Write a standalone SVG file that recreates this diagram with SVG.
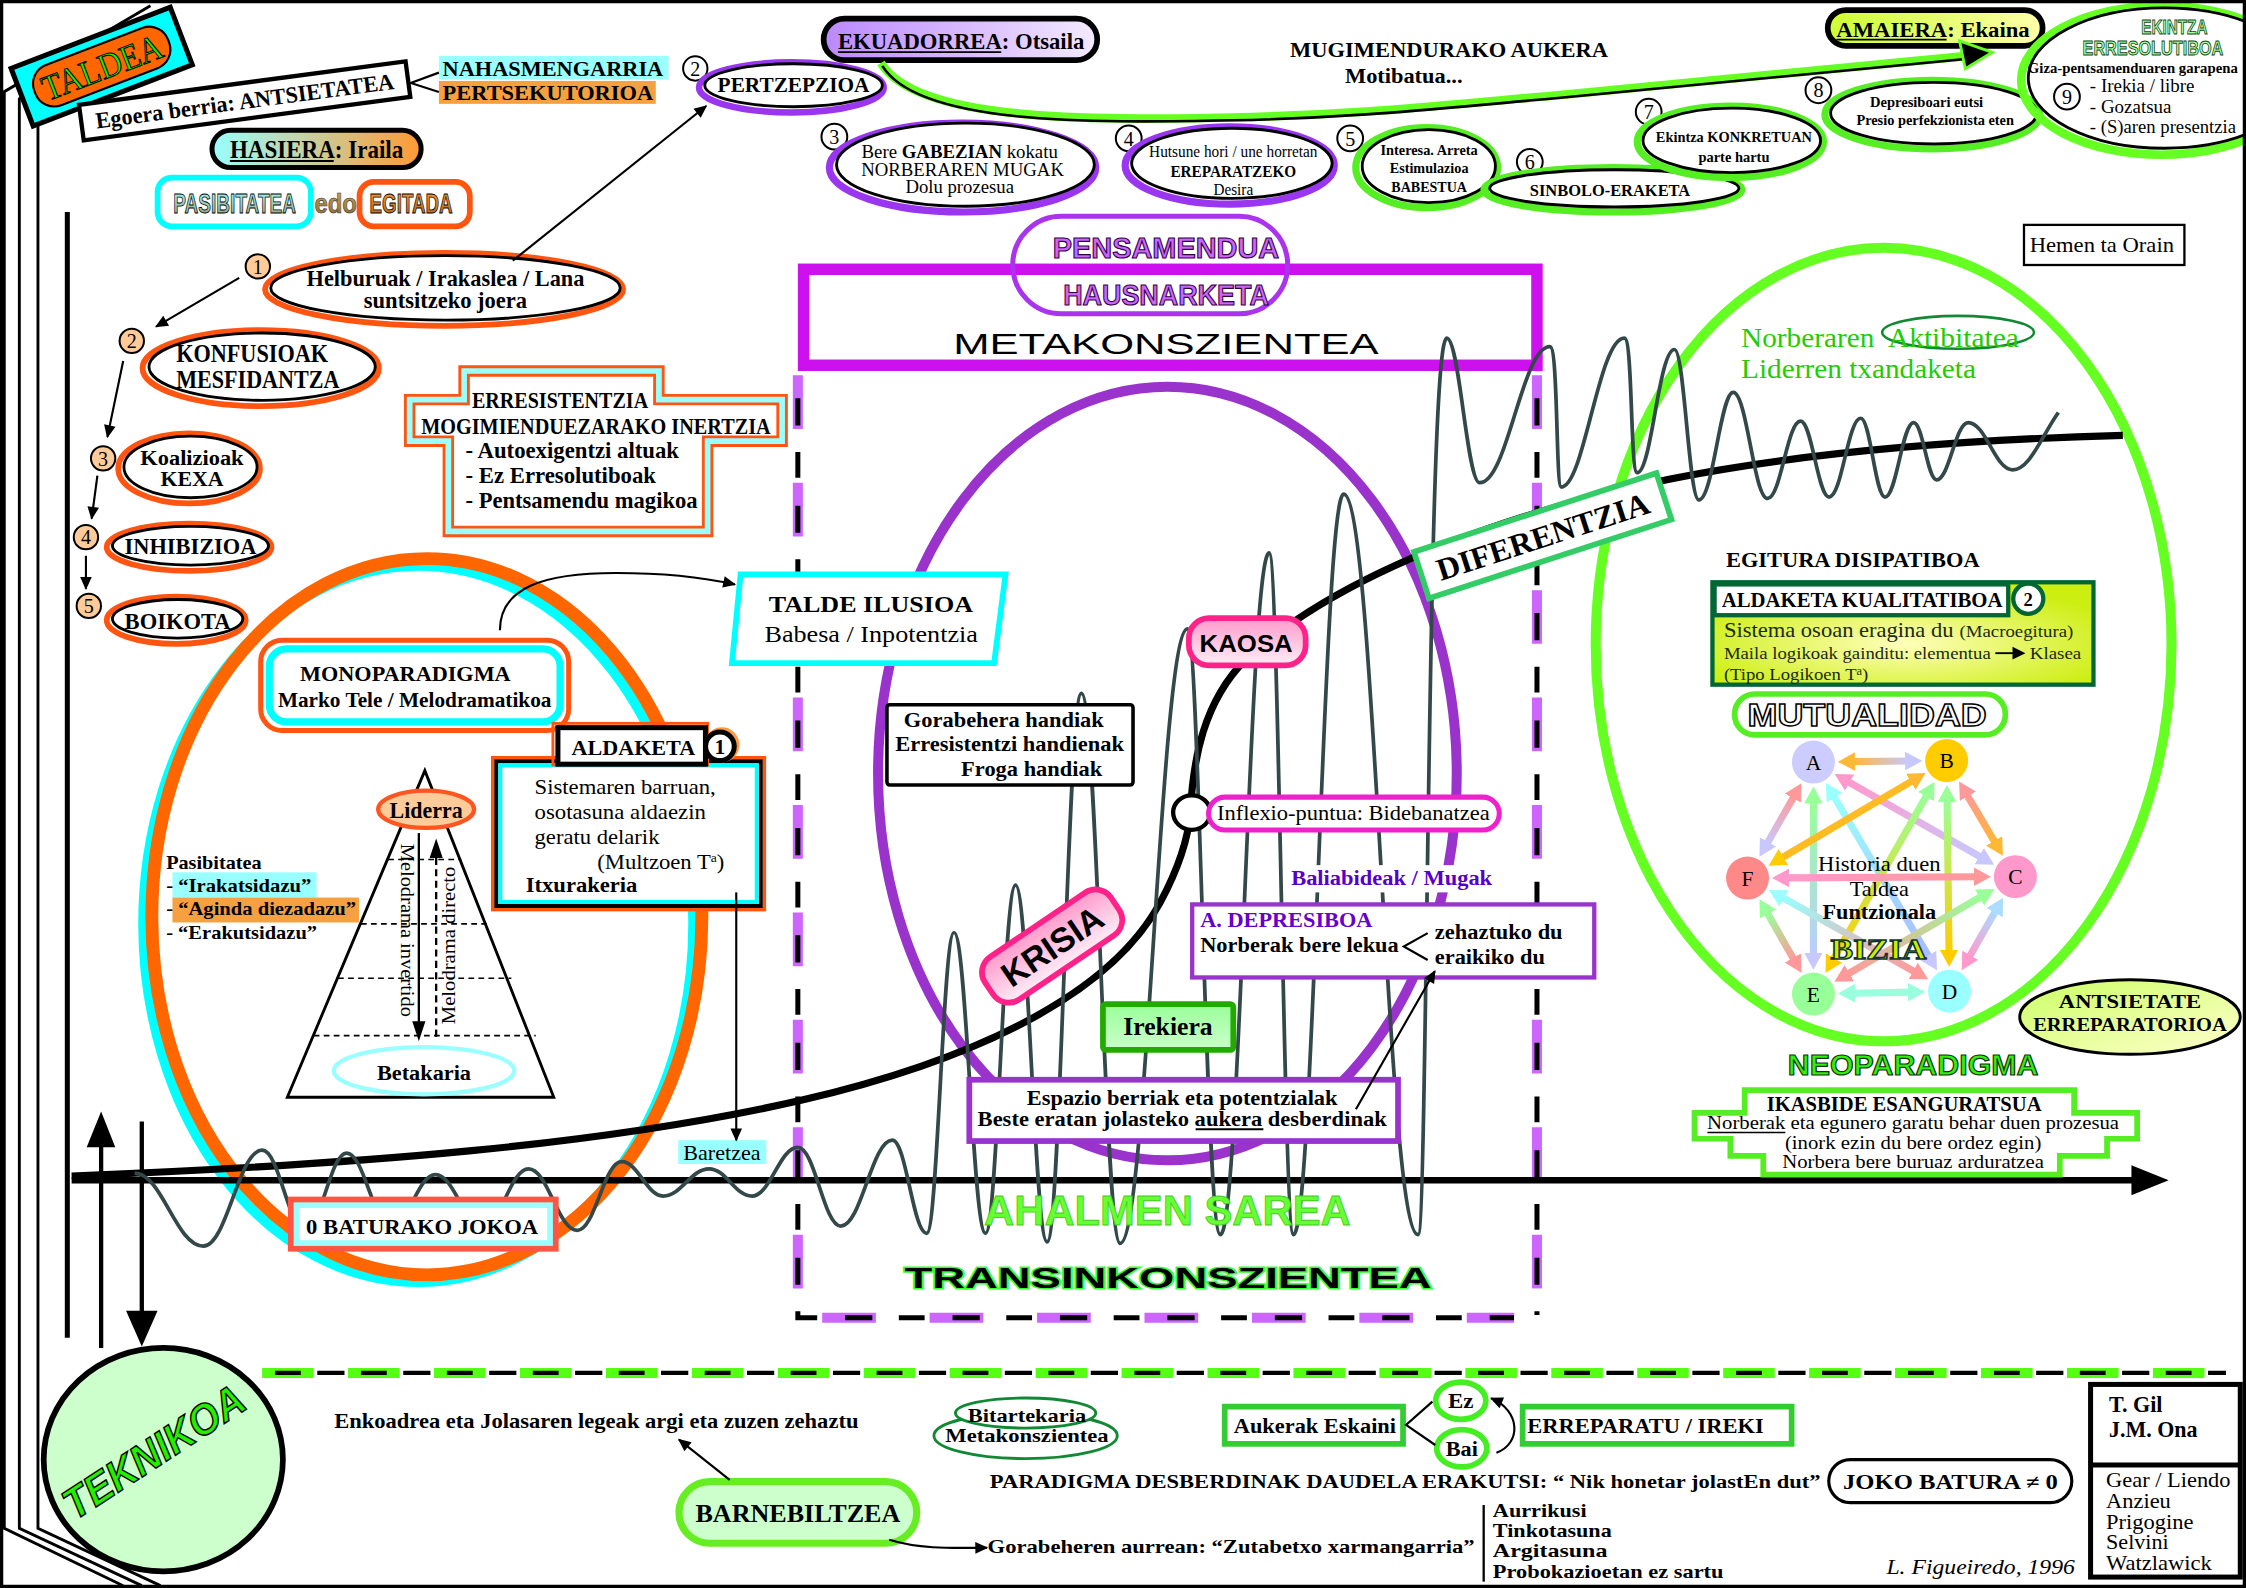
<svg xmlns="http://www.w3.org/2000/svg" width="2246" height="1588" viewBox="0 0 2246 1588">
<defs>
<style>
.b{font-family:"Liberation Serif","Times New Roman",serif;font-weight:bold}
.r{font-family:"Liberation Serif","Times New Roman",serif}
.s{font-family:"Liberation Sans",Arial,sans-serif}
.sb{font-family:"Liberation Sans",Arial,sans-serif;font-weight:bold}
.im{font-family:"Liberation Sans Narrow","Liberation Sans",Arial,sans-serif;font-weight:bold}
.ln{fill:none;stroke:#000;stroke-width:1.5}
.ul{stroke:#000;stroke-width:1.3}
.num{fill:#fff;stroke:#000;stroke-width:1.4}
.numo{fill:#ffcc99;stroke:#000;stroke-width:1.4}
.mu{fill:none;stroke-width:5}
</style>
<marker id="ah" viewBox="0 0 10 10" refX="9" refY="5" markerWidth="10" markerHeight="9" markerUnits="userSpaceOnUse" orient="auto"><path d="M0,0.5 L10,5 L0,9.5 z" fill="#000"/></marker>
<marker id="m-or" viewBox="0 0 12 13" refX="2" refY="6.5" markerWidth="12" markerHeight="13" markerUnits="userSpaceOnUse" orient="auto-start-reverse"><path d="M0,0 L12,6.5 L0,13 z" fill="#ffb833"/></marker>
<marker id="m-lav" viewBox="0 0 12 13" refX="2" refY="6.5" markerWidth="12" markerHeight="13" markerUnits="userSpaceOnUse" orient="auto-start-reverse"><path d="M0,0 L12,6.5 L0,13 z" fill="#c8c8ff"/></marker>
<marker id="m-pk" viewBox="0 0 12 13" refX="2" refY="6.5" markerWidth="12" markerHeight="13" markerUnits="userSpaceOnUse" orient="auto-start-reverse"><path d="M0,0 L12,6.5 L0,13 z" fill="#ff99cc"/></marker>
<marker id="m-cy" viewBox="0 0 12 13" refX="2" refY="6.5" markerWidth="12" markerHeight="13" markerUnits="userSpaceOnUse" orient="auto-start-reverse"><path d="M0,0 L12,6.5 L0,13 z" fill="#99ffff"/></marker>
<marker id="m-lg" viewBox="0 0 12 13" refX="2" refY="6.5" markerWidth="12" markerHeight="13" markerUnits="userSpaceOnUse" orient="auto-start-reverse"><path d="M0,0 L12,6.5 L0,13 z" fill="#99ff99"/></marker>
<marker id="m-sa" viewBox="0 0 12 13" refX="2" refY="6.5" markerWidth="12" markerHeight="13" markerUnits="userSpaceOnUse" orient="auto-start-reverse"><path d="M0,0 L12,6.5 L0,13 z" fill="#ff9999"/></marker>
<marker id="m-ye" viewBox="0 0 12 13" refX="2" refY="6.5" markerWidth="12" markerHeight="13" markerUnits="userSpaceOnUse" orient="auto-start-reverse"><path d="M0,0 L12,6.5 L0,13 z" fill="#ffcc00"/></marker>
<marker id="m-aq" viewBox="0 0 12 13" refX="2" refY="6.5" markerWidth="12" markerHeight="13" markerUnits="userSpaceOnUse" orient="auto-start-reverse"><path d="M0,0 L12,6.5 L0,13 z" fill="#99ffdd"/></marker>
<marker id="m-lb" viewBox="0 0 12 13" refX="2" refY="6.5" markerWidth="12" markerHeight="13" markerUnits="userSpaceOnUse" orient="auto-start-reverse"><path d="M0,0 L12,6.5 L0,13 z" fill="#aaddff"/></marker>
<linearGradient id="gHas" x1="0" y1="0" x2="1" y2="0"><stop offset="0" stop-color="#99ffff"/><stop offset="1" stop-color="#ff9933"/></linearGradient>
<linearGradient id="gEku" x1="0" y1="0" x2="1" y2="0"><stop offset="0" stop-color="#bb88ff"/><stop offset="1" stop-color="#f4eaff"/></linearGradient>
<linearGradient id="gAma" x1="0" y1="0" x2="1" y2="0"><stop offset="0" stop-color="#ccff33"/><stop offset="1" stop-color="#ffffaa"/></linearGradient>
<linearGradient id="gPink" x1="0" y1="0" x2="0" y2="1"><stop offset="0" stop-color="#ff99cc"/><stop offset="1" stop-color="#ffeef6"/></linearGradient>
<radialGradient id="gKual" cx="0.5" cy="0.6" r="0.6"><stop offset="0" stop-color="#ffffbb"/><stop offset="1" stop-color="#ccee11"/></radialGradient>
<linearGradient id="gAnts" x1="0" y1="0" x2="1" y2="1"><stop offset="0" stop-color="#ccff66"/><stop offset="1" stop-color="#ffffcc"/></linearGradient>
<linearGradient id="gIrek" x1="0" y1="0" x2="0" y2="1"><stop offset="0" stop-color="#99ff99"/><stop offset="1" stop-color="#ccffcc"/></linearGradient>
<linearGradient id="gPas" x1="0" y1="0" x2="0" y2="1"><stop offset="0" stop-color="#99ffff"/><stop offset="1" stop-color="#999977"/></linearGradient>
<linearGradient id="gEgi" x1="0" y1="0" x2="0" y2="1"><stop offset="0" stop-color="#ff9933"/><stop offset="1" stop-color="#aa6622"/></linearGradient>
<linearGradient id="gEdo" x1="0" y1="0" x2="0" y2="1"><stop offset="0" stop-color="#ccaa55"/><stop offset="1" stop-color="#886633"/></linearGradient>
<linearGradient id="a1" gradientUnits="userSpaceOnUse" x1="1293" y1="531.7" x2="1332" y2="531.3"><stop offset="0" stop-color="#ffb833"/><stop offset="1" stop-color="#c8c8ff"/></linearGradient>
<linearGradient id="a2" gradientUnits="userSpaceOnUse" x1="1289.5" y1="545.3" x2="1383.5" y2="598.7"><stop offset="0" stop-color="#ff99cc"/><stop offset="1" stop-color="#c8c8ff"/></linearGradient>
<linearGradient id="a3" gradientUnits="userSpaceOnUse" x1="1279.8" y1="555.2" x2="1347.2" y2="668.8"><stop offset="0" stop-color="#99ffff"/><stop offset="1" stop-color="#aabbff"/></linearGradient>
<linearGradient id="a4" gradientUnits="userSpaceOnUse" x1="1266" y1="559" x2="1266" y2="667"><stop offset="0" stop-color="#99ff99"/><stop offset="1" stop-color="#bbccff"/></linearGradient>
<linearGradient id="a5" gradientUnits="userSpaceOnUse" x1="1252.7" y1="555.5" x2="1233.3" y2="589.5"><stop offset="0" stop-color="#ff9999"/><stop offset="1" stop-color="#c8c8ff"/></linearGradient>
<linearGradient id="a6" gradientUnits="userSpaceOnUse" x1="1372.8" y1="554.2" x2="1393.2" y2="588.8"><stop offset="0" stop-color="#ff9999"/><stop offset="1" stop-color="#ffb833"/></linearGradient>
<linearGradient id="a7" gradientUnits="userSpaceOnUse" x1="1359.3" y1="558" x2="1360.7" y2="665"><stop offset="0" stop-color="#99ff99"/><stop offset="1" stop-color="#ffcc00"/></linearGradient>
<linearGradient id="a8" gradientUnits="userSpaceOnUse" x1="1345.6" y1="554.4" x2="1279.4" y2="670.6"><stop offset="0" stop-color="#99ff99"/><stop offset="1" stop-color="#ffcc00"/></linearGradient>
<linearGradient id="a10" gradientUnits="userSpaceOnUse" x1="1393.5" y1="635.4" x2="1374.5" y2="668.6"><stop offset="0" stop-color="#aaddff"/><stop offset="1" stop-color="#ff99cc"/></linearGradient>
<linearGradient id="a11" gradientUnits="userSpaceOnUse" x1="1383.7" y1="625.6" x2="1289.3" y2="680.4"><stop offset="0" stop-color="#99ff99"/><stop offset="1" stop-color="#ff9999"/></linearGradient>
<linearGradient id="a12" gradientUnits="userSpaceOnUse" x1="1380" y1="612" x2="1247" y2="613"><stop offset="0" stop-color="#ff9999"/><stop offset="1" stop-color="#ff99cc"/></linearGradient>
<linearGradient id="a14" gradientUnits="userSpaceOnUse" x1="1337.4" y1="678.8" x2="1243.6" y2="626.2"><stop offset="0" stop-color="#ff9999"/><stop offset="1" stop-color="#99ffff"/></linearGradient>
<linearGradient id="a15" gradientUnits="userSpaceOnUse" x1="1252.7" y1="670.5" x2="1233.3" y2="636.5"><stop offset="0" stop-color="#ff9999"/><stop offset="1" stop-color="#99ff99"/></linearGradient>
</defs>
<rect x="0" y="0" width="2246" height="1588" fill="#fff"/>
<g transform="scale(1.4324)">

<g id="frame-lines" fill="none" stroke="#000" stroke-width="2">
<path d="M105,4 L3,64 L3,1067 L86,1107"/>
<path d="M118,5 L13.5,69 L13.5,1067 L99,1107"/>
<path d="M26.5,88 L26.5,1067 L112,1107"/>
<line x1="47" y1="148" x2="47" y2="934" stroke-width="3.5"/>
<line x1="70.6" y1="941" x2="70.6" y2="798" stroke-width="3"/>
<line x1="99" y1="783" x2="99" y2="918" stroke-width="3"/>
</g>
<polygon points="70.6,776 60.5,801 80.5,801" fill="#000"/>
<polygon points="99,940 88,915 110,915" fill="#000"/>

<g id="dashed-box" fill="none">
<path d="M557,262 V920 H1057" stroke="#cc66ff" stroke-width="7" stroke-dasharray="37.5 37.5"/>
<path d="M557,262 V920 H1057" stroke="#000" stroke-width="3.5" stroke-dasharray="19 18.5 18 19.5" stroke-dashoffset="-16"/>
<path d="M1073,262 V918" stroke="#cc66ff" stroke-width="7" stroke-dasharray="37.5 37.5"/>
<path d="M1073,262 V918" stroke="#000" stroke-width="3.5" stroke-dasharray="19 18.5 18 19.5" stroke-dashoffset="-16"/>
</g>
<g id="bottom-divider" fill="none">
<path d="M183,958.5 H1554" stroke="#55ff11" stroke-width="7" stroke-dasharray="36 24"/>
<path d="M183,958.5 H1554" stroke="#000" stroke-width="3" stroke-dasharray="18 11.5 19 11.5" stroke-dashoffset="-9"/>
</g>

<g id="big-ellipses" fill="none">
<ellipse cx="292" cy="645" rx="192" ry="250" stroke="#00ffff" stroke-width="7"/>
<ellipse cx="298" cy="640" rx="192" ry="250" stroke="#ff6600" stroke-width="9"/>
<ellipse cx="815" cy="540" rx="202" ry="270" stroke="#9933cc" stroke-width="7"/>
<ellipse cx="1315" cy="450" rx="201" ry="277" stroke="#66ff22" stroke-width="7"/>
</g>

<g id="metakonszientea">
<rect x="561" y="188" width="512" height="67" fill="#fff" stroke="#cc11ee" stroke-width="8"/>
<rect x="707" y="151" width="192" height="68" rx="34" fill="none" stroke="#aa33ee" stroke-width="3.5"/>
<text x="814" y="180" text-anchor="middle" class="im" font-size="21" fill="#cc66ff" stroke="#330044" stroke-width="0.8" textLength="158" lengthAdjust="spacingAndGlyphs">PENSAMENDUA</text>
<text x="814" y="213" text-anchor="middle" class="im" font-size="21" fill="#cc66ff" stroke="#330044" stroke-width="0.8" textLength="143.6" lengthAdjust="spacingAndGlyphs">HAUSNARKETA</text>
<text x="814" y="247" text-anchor="middle" class="s" font-size="21" textLength="297" lengthAdjust="spacingAndGlyphs">METAKONSZIENTEA</text>
</g>

<g id="axis">
<line x1="50" y1="824" x2="1490" y2="824" stroke="#000" stroke-width="4.5"/>
<polygon points="1514,824 1488,813.5 1488,834.5" fill="#000"/>
</g>
<path id="sigmoid" d="M50,821 C250,813 420,800 560,768 C680,740 775,695 810,630 C826,600 830,580 831,567 C833,530 840,490 870,460 C920,415 1000,378 1100,350 C1200,322 1330,308 1482,304" fill="none" stroke="#000" stroke-width="5"/>
<path id="wave" fill="none" stroke="#334848" stroke-width="2.6" d="M94,819 C113.2,819 122.8,870 142,870 C158.4,870 166.6,803 183,803 C195,803 201,858 213,858 C224.6,858 230.4,805 242,805 C254.4,805 260.6,856 273,856 C285.4,856 291.6,820 304,820 C317.2,820 323.8,856 337,856 C349.8,856 356.2,816 369,816 C382.6,816 389.4,859 403,859 C415.4,859 421.6,811 434,811 C445.6,811 451.4,835 463,835 C475.8,835 482.2,816 495,816 C507,816 513,835 525,835 C537.8,835 544.2,801 557,801 C569,801 575,856 587,856 C601.4,856 608.6,796 623,796 C632.6,796 637.4,861 647,861 C654.6,861 658.4,651 666,651 C674.8,651 679.2,861 688,861 C696.4,861 700.6,618 709,618 C717.8,618 722.2,867 731,867 C740.6,867 745.4,484 755,484 C765.8,484 771.2,868 782,868 C800.8,868 810.2,439 829,439 C837.4,439 841.6,862 852,862 C865.6,862 872.4,386 886,386 C893,386 896,862 903,862 C917,862 924,345 938,345 C960,345 968,862 990,862 C997,862 996,236 1010,236 C1019,236 1024,337 1033,337 C1052.6,337 1062.4,242 1082,242 C1088,242 1086,340 1090,340 C1106,340 1116,236 1134,236 C1140,236 1138,330 1143,330 C1153,330 1158,244 1169,244 C1176,244 1179,349 1186,349 C1196,349 1201,274 1210,274 C1219.6,274 1224.4,348 1234,348 C1243.2,348 1247.8,294 1257,294 C1265,294 1269,347 1277,347 C1285.8,347 1290.2,292 1299,292 C1305.8,292 1309.2,347 1316,347 C1324,347 1328,295 1336,295 C1342.4,295 1345.6,335 1352,335 C1360.8,335 1365.2,295 1374,295 C1386.4,295 1392.6,328 1405,328 C1417,328 1425,305 1437,288"/>

<!-- TOP LEFT -->
<g id="taldea" transform="translate(71,46.5) rotate(-21)">
<rect x="-59.5" y="-21.5" width="119" height="43" fill="#00ffff" stroke="#000" stroke-width="3.5"/>
<rect x="-50" y="-15" width="100" height="30" rx="14" fill="#ff6600" stroke="#000" stroke-width="1.5"/>
<text x="0" y="9" text-anchor="middle" class="r" font-size="25" fill="#22ee00" stroke="#000" stroke-width="0.7" textLength="88" lengthAdjust="spacingAndGlyphs">TALDEA</text>
</g>
<g id="egoera" transform="translate(170.8,70.4) rotate(-7.6)">
<rect x="-115" y="-12.5" width="230" height="25" fill="#fff" stroke="#000" stroke-width="3"/>
<text x="0" y="5.5" text-anchor="middle" class="b" font-size="16" textLength="210" lengthAdjust="spacingAndGlyphs">Egoera berria: ANTSIETATEA</text>
</g>
<g id="nahasmengarria">
<rect x="306.4" y="39" width="160.3" height="16.5" fill="#99ffff"/>
<text x="309" y="53" class="b" font-size="15" textLength="154" lengthAdjust="spacingAndGlyphs">NAHASMENGARRIA</text>
<rect x="306.4" y="56.5" width="151.4" height="16" fill="#f7a040"/>
<text x="309" y="70" class="b" font-size="15" textLength="147" lengthAdjust="spacingAndGlyphs">PERTSEKUTORIOA</text>
</g>
<g id="hasiera">
<rect x="148" y="91" width="146" height="26" rx="13" fill="url(#gHas)" stroke="#000" stroke-width="3.5"/>
<text x="221" y="110" text-anchor="middle" class="b" font-size="17" textLength="121" lengthAdjust="spacingAndGlyphs">HASIERA: Iraila</text>
<line x1="160.5" y1="112.4" x2="233" y2="112.4" class="ul"/>
</g>
<g id="pasibitatea">
<rect x="110" y="124" width="107" height="34" rx="10" fill="#fff" stroke="#00ffff" stroke-width="4"/>
<text transform="translate(121,149) scale(0.7,1)" class="im" font-size="19" fill="url(#gPas)" stroke="#000" stroke-width="0.6">PASIBITATEA</text>
<text transform="translate(219.5,149) scale(0.88,1)" class="im" font-size="19" fill="url(#gEdo)" stroke="#333" stroke-width="0.4">edo</text>
<rect x="251" y="127" width="77" height="31" rx="10" fill="#fff" stroke="#ff5511" stroke-width="4"/>
<text transform="translate(258,149) scale(0.69,1)" class="im" font-size="19" fill="url(#gEgi)" stroke="#000" stroke-width="0.6">EGITADA</text>
</g>

<!-- LEFT LIST -->
<g id="n1">
<circle cx="180" cy="186" r="8.5" class="numo"/><text x="180" y="191" text-anchor="middle" class="r" font-size="14">1</text>
<ellipse cx="310" cy="202" rx="125" ry="25.5" fill="none" stroke="#ff5511" stroke-width="4"/>
<ellipse cx="311" cy="201" rx="122" ry="22.5" fill="#fff" stroke="#000" stroke-width="2"/>
<text x="311" y="199.5" text-anchor="middle" class="b" font-size="15.5" textLength="194" lengthAdjust="spacingAndGlyphs">Helburuak / Irakaslea / Lana</text>
<text x="311" y="215" text-anchor="middle" class="b" font-size="15.5" textLength="114" lengthAdjust="spacingAndGlyphs">suntsitzeko joera</text>
</g>
<g id="n2">
<circle cx="92" cy="238" r="8.5" class="numo"/><text x="92" y="243" text-anchor="middle" class="r" font-size="14">2</text>
<ellipse cx="182" cy="257" rx="82.5" ry="26.5" fill="none" stroke="#ff5511" stroke-width="4"/>
<ellipse cx="183" cy="256" rx="79" ry="23.5" fill="#fff" stroke="#000" stroke-width="2"/>
<text x="123" y="253" class="b" font-size="17" textLength="106" lengthAdjust="spacingAndGlyphs">KONFUSIOAK</text>
<text x="123" y="271" class="b" font-size="17" textLength="114" lengthAdjust="spacingAndGlyphs">MESFIDANTZA</text>
</g>
<g id="n3">
<circle cx="72" cy="320" r="8.5" class="numo"/><text x="72" y="325" text-anchor="middle" class="r" font-size="14">3</text>
<ellipse cx="132" cy="327" rx="49.5" ry="24.5" fill="none" stroke="#ff5511" stroke-width="4"/>
<ellipse cx="133" cy="326" rx="46.5" ry="21.5" fill="#fff" stroke="#000" stroke-width="2"/>
<text x="134" y="324.5" text-anchor="middle" class="b" font-size="14.5" textLength="72" lengthAdjust="spacingAndGlyphs">Koalizioak</text>
<text x="134" y="339.5" text-anchor="middle" class="b" font-size="14.5" textLength="44" lengthAdjust="spacingAndGlyphs">KEXA</text>
</g>
<g id="n4">
<circle cx="60" cy="375" r="8.5" class="numo"/><text x="60" y="380" text-anchor="middle" class="r" font-size="14">4</text>
<ellipse cx="132" cy="382" rx="57.5" ry="16.5" fill="none" stroke="#ff5511" stroke-width="4"/>
<ellipse cx="133" cy="381" rx="54.5" ry="13.5" fill="#fff" stroke="#000" stroke-width="2"/>
<text x="133" y="387" text-anchor="middle" class="b" font-size="16" textLength="92" lengthAdjust="spacingAndGlyphs">INHIBIZIOA</text>
</g>
<g id="n5">
<circle cx="62" cy="423" r="8.5" class="numo"/><text x="62" y="428" text-anchor="middle" class="r" font-size="14">5</text>
<ellipse cx="123" cy="433" rx="48.5" ry="16.5" fill="none" stroke="#ff5511" stroke-width="4"/>
<ellipse cx="124" cy="432" rx="45.5" ry="13.5" fill="#fff" stroke="#000" stroke-width="2"/>
<text x="124" y="439" text-anchor="middle" class="b" font-size="16" textLength="74" lengthAdjust="spacingAndGlyphs">BOIKOTA</text>
</g>

<g id="erresistentzia">
<polygon points="321,256 463,256 463,276 549,276 549,311 497,311 497,374 310,374 310,311 283,311 283,276 321,276" fill="#99ffff" stroke="#ff5511" stroke-width="2"/>
<polygon points="327,262 457,262 457,282 543,282 543,305 491,305 491,368 316,368 316,305 289,305 289,282 327,282" fill="#fff" stroke="#ff5511" stroke-width="2"/>
<text x="391" y="285" text-anchor="middle" class="b" font-size="15.5" textLength="123" lengthAdjust="spacingAndGlyphs">ERRESISTENTZIA</text>
<text x="416" y="303" text-anchor="middle" class="b" font-size="15.5" textLength="244" lengthAdjust="spacingAndGlyphs">MOGIMIENDUEZARAKO INERTZIA</text>
<text x="325" y="320" class="b" font-size="15.5" textLength="149" lengthAdjust="spacingAndGlyphs">- Autoexigentzi altuak</text>
<text x="325" y="337.5" class="b" font-size="15.5" textLength="133" lengthAdjust="spacingAndGlyphs">- Ez Erresolutiboak</text>
<text x="325" y="355" class="b" font-size="15.5" textLength="162" lengthAdjust="spacingAndGlyphs">- Pentsamendu magikoa</text>
</g>

<!-- TOP MIDDLE -->
<g id="pertzepzioa">
<circle cx="485.4" cy="47.8" r="8.5" class="num"/><text x="485.4" y="53" text-anchor="middle" class="r" font-size="14">2</text>
<ellipse cx="552.5" cy="61" rx="64.5" ry="17.5" fill="none" stroke="#9a35f0" stroke-width="4.5"/>
<ellipse cx="554" cy="59.5" rx="62" ry="15" fill="#fff" stroke="#000" stroke-width="2"/>
<text x="554" y="64.5" text-anchor="middle" class="b" font-size="14.5" textLength="106" lengthAdjust="spacingAndGlyphs">PERTZEPZIOA</text>
</g>
<g id="ekuadorrea">
<rect x="575" y="13" width="191" height="29" rx="14.5" fill="url(#gEku)" stroke="#000" stroke-width="4"/>
<text x="585" y="34" class="b" font-size="16.5" textLength="172" lengthAdjust="spacingAndGlyphs">EKUADORREA: Otsaila</text>
<line x1="585" y1="36.4" x2="699" y2="36.4" class="ul"/>
</g>
<g id="mugimendurako">
<text x="900.6" y="39.6" class="b" font-size="14.5" textLength="222" lengthAdjust="spacingAndGlyphs">MUGIMENDURAKO AUKERA</text>
<text x="939" y="58.2" class="b" font-size="14.5" textLength="82" lengthAdjust="spacingAndGlyphs">Motibatua...</text>
</g>
<g id="n3top">
<circle cx="582.5" cy="95.4" r="9" class="num"/><text x="582.5" y="100.5" text-anchor="middle" class="r" font-size="14">3</text>
<ellipse cx="672" cy="117" rx="93" ry="31" fill="none" stroke="#9a35f0" stroke-width="5"/>
<ellipse cx="674" cy="115" rx="90" ry="29" fill="#fff" stroke="#000" stroke-width="2"/>
<text x="670" y="110.6" text-anchor="middle" class="r" font-size="12.5" textLength="137" lengthAdjust="spacingAndGlyphs">Bere <tspan font-weight="bold">GABEZIAN</tspan> kokatu</text>
<text x="672" y="122.9" text-anchor="middle" class="r" font-size="12.5" textLength="141.6" lengthAdjust="spacingAndGlyphs">NORBERAREN MUGAK</text>
<text x="670" y="135" text-anchor="middle" class="r" font-size="12.5" textLength="75.8" lengthAdjust="spacingAndGlyphs">Dolu prozesua</text>
</g>
<g id="n4top">
<circle cx="788" cy="96.6" r="9" class="num"/><text x="788" y="101.7" text-anchor="middle" class="r" font-size="14">4</text>
<ellipse cx="858.5" cy="115.5" rx="73" ry="27" fill="none" stroke="#9a35f0" stroke-width="5"/>
<ellipse cx="860" cy="114" rx="70" ry="24.5" fill="#fff" stroke="#000" stroke-width="2"/>
<text x="861" y="109.8" text-anchor="middle" class="r" font-size="11.5" textLength="117.6" lengthAdjust="spacingAndGlyphs">Hutsune hori / une horretan</text>
<text x="861" y="123.3" text-anchor="middle" class="b" font-size="11.5" textLength="87.8" lengthAdjust="spacingAndGlyphs">EREPARATZEKO</text>
<text x="861" y="136.1" text-anchor="middle" class="r" font-size="11" textLength="27.7" lengthAdjust="spacingAndGlyphs">Desira</text>
</g>
<g id="n5top">
<circle cx="942.6" cy="96.6" r="9" class="num"/><text x="942.6" y="101.7" text-anchor="middle" class="r" font-size="14">5</text>
<ellipse cx="996" cy="117" rx="49.5" ry="28" fill="none" stroke="#55ee22" stroke-width="5"/>
<ellipse cx="997.5" cy="116" rx="46.5" ry="25.5" fill="#fff" stroke="#000" stroke-width="2"/>
<text x="997.7" y="108.2" text-anchor="middle" class="b" font-size="10.5" textLength="67.8" lengthAdjust="spacingAndGlyphs">Interesa. Arreta</text>
<text x="997.7" y="121" text-anchor="middle" class="b" font-size="10.5" textLength="55" lengthAdjust="spacingAndGlyphs">Estimulazioa</text>
<text x="997.7" y="133.8" text-anchor="middle" class="b" font-size="10.5" textLength="52.8" lengthAdjust="spacingAndGlyphs">BABESTUA</text>
</g>
<g id="n6top">
<circle cx="1068" cy="113" r="9" class="num"/><text x="1068" y="118" text-anchor="middle" class="r" font-size="14">6</text>
<ellipse cx="1126" cy="132.5" rx="90" ry="15.5" fill="none" stroke="#55ee22" stroke-width="5"/>
<ellipse cx="1127" cy="131.5" rx="87" ry="13" fill="#fff" stroke="#000" stroke-width="2"/>
<text x="1124" y="136.5" text-anchor="middle" class="b" font-size="11.5" textLength="112" lengthAdjust="spacingAndGlyphs">SINBOLO-ERAKETA</text>
</g>
<g id="n7top">
<circle cx="1151" cy="78" r="9" class="num"/><text x="1151" y="83" text-anchor="middle" class="r" font-size="14">7</text>
<ellipse cx="1208" cy="99" rx="65" ry="25" fill="none" stroke="#55ee22" stroke-width="5"/>
<ellipse cx="1209" cy="98" rx="62" ry="22.5" fill="#fff" stroke="#000" stroke-width="2"/>
<text x="1210.5" y="99" text-anchor="middle" class="b" font-size="10.6" textLength="109" lengthAdjust="spacingAndGlyphs">Ekintza KONKRETUAN</text>
<text x="1210.5" y="113" text-anchor="middle" class="b" font-size="10.6" textLength="49.6" lengthAdjust="spacingAndGlyphs">parte hartu</text>
</g>
<g id="n8top">
<circle cx="1269.5" cy="63" r="9" class="num"/><text x="1269.5" y="68" text-anchor="middle" class="r" font-size="14">8</text>
<ellipse cx="1349" cy="80" rx="75" ry="24" fill="none" stroke="#55ee22" stroke-width="5"/>
<ellipse cx="1350" cy="79" rx="72" ry="21.5" fill="#fff" stroke="#000" stroke-width="2"/>
<text x="1345" y="74.5" text-anchor="middle" class="b" font-size="10.6" textLength="79" lengthAdjust="spacingAndGlyphs">Depresiboari eutsi</text>
<text x="1351" y="87.3" text-anchor="middle" class="b" font-size="10.6" textLength="110" lengthAdjust="spacingAndGlyphs">Presio perfekzionista eten</text>
</g>
<g id="amaiera">
<rect x="1276" y="7" width="150" height="25" rx="12.5" fill="url(#gAma)" stroke="#000" stroke-width="4"/>
<text x="1282" y="25.5" class="b" font-size="14.5" textLength="135" lengthAdjust="spacingAndGlyphs">AMAIERA: Ekaina</text>
<line x1="1282" y1="27.7" x2="1359" y2="27.7" class="ul"/>
</g>
<g id="ekintza-erresolutiboa">
<ellipse cx="1509" cy="56" rx="98" ry="52" fill="none" stroke="#66ff22" stroke-width="6"/>
<ellipse cx="1511" cy="54.5" rx="95" ry="49" fill="#fff" stroke="#000" stroke-width="2"/>
<text transform="translate(1518,24) scale(0.79,1)" text-anchor="middle" class="im" font-size="13.5" fill="#aaffaa" stroke="#114411" stroke-width="0.6">EKINTZA</text>
<text transform="translate(1503,38.2) scale(0.84,1)" text-anchor="middle" class="im" font-size="13.5" fill="#aaffaa" stroke="#114411" stroke-width="0.6">ERRESOLUTIBOA</text>
<text x="1489" y="51" text-anchor="middle" class="b" font-size="10.3">Giza-pentsamenduaren garapena</text>
<circle cx="1443" cy="67.5" r="9" class="num"/><text x="1443" y="72.5" text-anchor="middle" class="r" font-size="14">9</text>
<text x="1459" y="64" class="r" font-size="12.5" textLength="73" lengthAdjust="spacingAndGlyphs">- Irekia / libre</text>
<text x="1459" y="78.7" class="r" font-size="12.5" textLength="57" lengthAdjust="spacingAndGlyphs">- Gozatsua</text>
<text x="1459" y="93" class="r" font-size="12.5" textLength="102" lengthAdjust="spacingAndGlyphs">- (S)aren presentzia</text>
</g>
<g id="hemen-ta-orain">
<rect x="1413" y="157" width="112" height="28" fill="#fff" stroke="#000" stroke-width="1.6"/>
<text x="1417" y="176" class="r" font-size="14.5" textLength="100.7" lengthAdjust="spacingAndGlyphs">Hemen ta Orain</text>
</g>
<g id="aktibitatea" fill="#22cc00">
<text x="1215.5" y="242" class="r" font-size="19" textLength="93" lengthAdjust="spacingAndGlyphs">Norberaren</text>
<ellipse cx="1367" cy="232" rx="53" ry="11.5" fill="none" stroke="#118833" stroke-width="1.8"/>
<text x="1318" y="242" class="r" font-size="19" textLength="91.4" lengthAdjust="spacingAndGlyphs">Aktibitatea</text>
<text x="1215.5" y="264" class="r" font-size="19" textLength="164" lengthAdjust="spacingAndGlyphs">Liderren txandaketa</text>
</g>

<!-- LEFT ELLIPSE CONTENT -->
<g id="monoparadigma">
<rect x="182" y="447" width="215" height="63" rx="15" fill="#fff" stroke="#ff5511" stroke-width="3.5"/>
<rect x="188" y="453" width="203" height="51" rx="12" fill="#fff" stroke="#00ffff" stroke-width="5"/>
<text x="283" y="475.5" text-anchor="middle" class="b" font-size="15" textLength="147" lengthAdjust="spacingAndGlyphs">MONOPARADIGMA</text>
<text x="289.5" y="493.6" text-anchor="middle" class="b" font-size="15" textLength="191" lengthAdjust="spacingAndGlyphs">Marko Tele / Melodramatikoa</text>
</g>
<g id="talde-ilusioa">
<polygon points="517,401 702,401 694,463 511,463" fill="#fff" stroke="#00ffff" stroke-width="4"/>
<text x="536.7" y="427" class="b" font-size="16" textLength="142.6" lengthAdjust="spacingAndGlyphs">TALDE ILUSIOA</text>
<text x="533.7" y="448" class="r" font-size="16" textLength="149" lengthAdjust="spacingAndGlyphs">Babesa / Inpotentzia</text>
</g>
<g id="aldaketa">
<rect x="344" y="529" width="189.6" height="106" fill="none" stroke="#ff5511" stroke-width="2.5"/>
<rect x="346.5" y="531.5" width="184.6" height="101" fill="none" stroke="#000" stroke-width="2.8"/>
<rect x="349.3" y="534.3" width="179" height="95.4" fill="#fff" stroke="#00ffff" stroke-width="2.8"/>
<rect x="386" y="505" width="108" height="29" fill="none" stroke="#ff5511" stroke-width="2"/>
<rect x="389.5" y="508" width="103" height="25.5" fill="#fff" stroke="#000" stroke-width="3.5"/>
<text x="399" y="527" class="b" font-size="15" textLength="86.3" lengthAdjust="spacingAndGlyphs">ALDAKETA</text>
<circle cx="504" cy="520" r="11" fill="none" stroke="#ff9944" stroke-width="2.5"/>
<circle cx="502.6" cy="521" r="10" fill="#fff" stroke="#000" stroke-width="3.5"/>
<text x="502.6" y="526.5" text-anchor="middle" class="b" font-size="15">1</text>
<text x="373.2" y="554.3" class="r" font-size="15" textLength="126.5" lengthAdjust="spacingAndGlyphs">Sistemaren barruan,</text>
<text x="373.2" y="571.8" class="r" font-size="15" textLength="119.6" lengthAdjust="spacingAndGlyphs">osotasuna aldaezin</text>
<text x="373.2" y="589.3" class="r" font-size="15" textLength="87.2" lengthAdjust="spacingAndGlyphs">geratu delarik</text>
<text x="417" y="606.7" class="r" font-size="15" textLength="88.7" lengthAdjust="spacingAndGlyphs">(Multzoen T<tspan dy="-5" font-size="9">a</tspan><tspan dy="5">)</tspan></text>
<text x="367" y="622.8" class="b" font-size="15" textLength="78" lengthAdjust="spacingAndGlyphs">Itxurakeria</text>
</g>
<g id="piramidea">
<polygon points="296.6,538 200.6,766 386.6,766" fill="#fff" stroke="#000" stroke-width="2"/>
<g stroke="#000" stroke-width="1.1" stroke-dasharray="4 3">
<line x1="271" y1="600" x2="322" y2="600"/>
<line x1="252" y1="645" x2="341" y2="645"/>
<line x1="236" y1="683" x2="357" y2="683"/>
<line x1="219" y1="723" x2="374" y2="723"/>
</g>
<ellipse cx="297.5" cy="565" rx="33.5" ry="13" fill="#ffcc99" stroke="#ff5522" stroke-width="3"/>
<text x="297.5" y="571" text-anchor="middle" class="b" font-size="16" textLength="51" lengthAdjust="spacingAndGlyphs">Liderra</text>
<ellipse cx="296" cy="747.5" rx="63" ry="16.5" fill="#fff" stroke="#99ffff" stroke-width="3"/>
<text x="296" y="753.7" text-anchor="middle" class="b" font-size="14.5" textLength="65.7" lengthAdjust="spacingAndGlyphs">Betakaria</text>
<line x1="292.4" y1="581.6" x2="292.4" y2="716" stroke="#000" stroke-width="1.6"/>
<polygon points="292.4,727 287.8,713 297,713" fill="#000"/>
<line x1="304.5" y1="723.8" x2="304.5" y2="597" stroke="#000" stroke-width="1.6" stroke-dasharray="5 3"/>
<polygon points="304.5,585.4 299.9,599 309.1,599" fill="#000"/>
<text transform="translate(280,589) rotate(90)" class="r" font-size="13.5" textLength="121" lengthAdjust="spacingAndGlyphs">Melodrama invertido</text>
<text transform="translate(317.5,715) rotate(-90)" class="r" font-size="13.5" textLength="110" lengthAdjust="spacingAndGlyphs">Melodrama directo</text>
</g>
<g id="pasibitatea-list">
<text x="116" y="606.7" class="b" font-size="13" textLength="66.6" lengthAdjust="spacingAndGlyphs">Pasibitatea</text>
<rect x="120.4" y="609" width="100.6" height="17.6" fill="#99ffff"/>
<rect x="120.4" y="626.6" width="130.2" height="17.4" fill="#f7a040"/>
<text x="116" y="622.8" class="b" font-size="13" textLength="101.4" lengthAdjust="spacingAndGlyphs">- “Irakatsidazu”</text>
<text x="116" y="638.8" class="b" font-size="13" textLength="132.6" lengthAdjust="spacingAndGlyphs">- “Aginda diezadazu”</text>
<text x="116" y="655.3" class="b" font-size="13" textLength="105.4" lengthAdjust="spacingAndGlyphs">- “Erakutsidazu”</text>
</g>
<g id="baretzea">
<rect x="473.5" y="796" width="61.5" height="16.6" fill="#99ffff"/>
<text x="477" y="810" class="r" font-size="14.5" textLength="54" lengthAdjust="spacingAndGlyphs">Baretzea</text>
</g>
<g id="zero-baturako-jokoa">
<rect x="201" y="835.4" width="189" height="38.4" fill="#ff5544"/>
<rect x="205" y="839.4" width="181" height="30.4" fill="#99ffff"/>
<rect x="209" y="843.4" width="173" height="22.4" fill="#fff"/>
<text x="213.7" y="861.5" class="b" font-size="15" textLength="162" lengthAdjust="spacingAndGlyphs">0 BATURAKO JOKOA</text>
</g>

<!-- MIDDLE -->
<g id="gorabehera">
<rect x="619.2" y="492" width="171.8" height="56" rx="2" fill="#fff" stroke="#000" stroke-width="2.5"/>
<text x="631" y="507.6" class="b" font-size="15" textLength="139.6" lengthAdjust="spacingAndGlyphs">Gorabehera handiak</text>
<text x="625" y="524.6" class="b" font-size="15" textLength="159.7" lengthAdjust="spacingAndGlyphs">Erresistentzi handienak</text>
<text x="671" y="541.9" class="b" font-size="15" textLength="98.5" lengthAdjust="spacingAndGlyphs">Froga handiak</text>
</g>
<g id="kaosa">
<rect x="830" y="431.5" width="81.5" height="33" rx="14" fill="url(#gPink)" stroke="#ff2288" stroke-width="4"/>
<text x="870" y="455" text-anchor="middle" class="sb" font-size="17" textLength="65" lengthAdjust="spacingAndGlyphs">KAOSA</text>
</g>
<g id="krisia" transform="translate(734.5,660.5) rotate(-34)">
<rect x="-53" y="-18" width="106" height="36" rx="13" fill="url(#gPink)" stroke="#ff2288" stroke-width="4"/>
<text x="0" y="8.5" text-anchor="middle" class="sb" font-size="24" textLength="80" lengthAdjust="spacingAndGlyphs">KRISIA</text>
</g>
<g id="inflexio">
<ellipse cx="832" cy="567.3" rx="13" ry="12" fill="#fff" stroke="#000" stroke-width="3"/>
<rect x="843.7" y="556.5" width="203" height="23" rx="11.5" fill="#fff" stroke="#ee22cc" stroke-width="3.5"/>
<text x="849.6" y="572.6" class="r" font-size="14" textLength="190.4" lengthAdjust="spacingAndGlyphs">Inflexio-puntua: Bidebanatzea</text>
</g>
<g id="baliabideak">
<rect x="899" y="604" width="145" height="19" fill="#fff"/>
<text x="901.4" y="618" class="b" font-size="14.5" fill="#5500cc" textLength="140.3" lengthAdjust="spacingAndGlyphs">Baliabideak / Mugak</text>
</g>
<g id="depresiboa">
<rect x="832.3" y="631.4" width="280.7" height="51" fill="#fff" stroke="#9933cc" stroke-width="3"/>
<text x="837.9" y="647.3" class="b" font-size="14" fill="#6600cc" textLength="120.2" lengthAdjust="spacingAndGlyphs">A. DEPRESIBOA</text>
<text x="837.9" y="664.7" class="b" font-size="14" textLength="138.6" lengthAdjust="spacingAndGlyphs">Norberak bere lekua</text>
<polyline points="996.7,651.4 980,660.8 996.7,670.2" class="ln"/>
<text x="1001.7" y="655.5" class="b" font-size="14" textLength="89.2" lengthAdjust="spacingAndGlyphs">zehaztuko du</text>
<text x="1001.7" y="672.8" class="b" font-size="14" textLength="76.8" lengthAdjust="spacingAndGlyphs">eraikiko du</text>
</g>
<g id="irekiera">
<rect x="770" y="701" width="91" height="32" rx="2" fill="url(#gIrek)" stroke="#22aa00" stroke-width="4"/>
<text x="815.4" y="722.8" text-anchor="middle" class="b" font-size="17" textLength="62.5" lengthAdjust="spacingAndGlyphs">Irekiera</text>
</g>
<g id="espazio">
<rect x="676.7" y="753.8" width="299.3" height="42.8" fill="#fff" stroke="#9933cc" stroke-width="4"/>
<text x="825.3" y="771.7" text-anchor="middle" class="b" font-size="14.5" textLength="217" lengthAdjust="spacingAndGlyphs">Espazio berriak eta potentzialak</text>
<text x="825.3" y="785.8" text-anchor="middle" class="b" font-size="14.5" textLength="285.6" lengthAdjust="spacingAndGlyphs">Beste eratan jolasteko aukera desberdinak</text>
<line x1="834.7" y1="788.4" x2="882" y2="788.4" class="ul"/>
</g>
<g id="ahalmen-sarea">
<text x="815" y="855" text-anchor="middle" class="im" font-size="30" fill="#66ff33" stroke="#44cc22" stroke-width="0.6" textLength="256" lengthAdjust="spacingAndGlyphs">AHALMEN SAREA</text>
<text x="815.5" y="899.4" text-anchor="middle" class="sb" font-size="21" fill="#000" stroke="#33ff33" stroke-width="2" paint-order="stroke" textLength="368" lengthAdjust="spacingAndGlyphs">TRANSINKONSZIENTEA</text>
</g>
<g id="diferentzia" transform="translate(1077,374) rotate(-18)">
<rect x="-89" y="-17" width="178" height="34" fill="#fff" stroke="#33cc66" stroke-width="4"/>
<text x="0" y="8" text-anchor="middle" class="b" font-size="22" textLength="155" lengthAdjust="spacingAndGlyphs">DIFERENTZIA</text>
</g>

<!-- RIGHT ELLIPSE -->
<g id="egitura">
<text x="1205" y="396" class="b" font-size="15" textLength="177" lengthAdjust="spacingAndGlyphs">EGITURA DISIPATIBOA</text>
<rect x="1195.5" y="406.5" width="266" height="71.5" fill="url(#gKual)" stroke="#006633" stroke-width="3"/>
<rect x="1197" y="408" width="205" height="21.5" fill="#fff" stroke="#006633" stroke-width="3"/>
<text x="1202" y="423.5" class="b" font-size="14" textLength="196" lengthAdjust="spacingAndGlyphs">ALDAKETA KUALITATIBOA</text>
<circle cx="1416" cy="418" r="10.5" fill="#fff" stroke="#006633" stroke-width="3"/>
<text x="1416" y="423" text-anchor="middle" class="b" font-size="13">2</text>
<g fill="#1a2a10">
<text x="1203.5" y="445" class="r" font-size="15" textLength="160.3" lengthAdjust="spacingAndGlyphs">Sistema osoan eragina du</text>
<text x="1368" y="445" class="r" font-size="12" textLength="79.4" lengthAdjust="spacingAndGlyphs">(Macroegitura)</text>
<text x="1203.5" y="460" class="r" font-size="12" textLength="186.3" lengthAdjust="spacingAndGlyphs">Maila logikoak gainditu: elementua</text>
<text x="1417" y="460" class="r" font-size="12" textLength="36" lengthAdjust="spacingAndGlyphs">Klasea</text>
<text x="1203.5" y="475" class="r" font-size="12" textLength="100.8" lengthAdjust="spacingAndGlyphs">(Tipo Logikoen T<tspan dy="-4" font-size="8">a</tspan><tspan dy="4">)</tspan></text>
</g>
<line x1="1393" y1="456" x2="1406" y2="456" stroke="#000" stroke-width="1.3"/>
<polygon points="1414,456 1405,451.5 1405,460.5" fill="#000"/>
</g>
<g id="mutualidad">
<rect x="1211" y="484.5" width="189" height="28.5" rx="14" fill="#fff" stroke="#55ee22" stroke-width="4"/>
<text x="1303.5" y="507" text-anchor="middle" class="sb" font-size="22" fill="#fff" stroke="#000" stroke-width="1" textLength="167" lengthAdjust="spacingAndGlyphs">MUTUALIDAD</text>
</g>
<g id="mutual-arrows" class="mu">
<line x1="1293" y1="531.7" x2="1332" y2="531.3" stroke="url(#a1)" marker-start="url(#m-or)" marker-end="url(#m-lav)"/>
<line x1="1289.5" y1="545.3" x2="1383.5" y2="598.7" stroke="url(#a2)" marker-start="url(#m-pk)" marker-end="url(#m-lav)"/>
<line x1="1279.8" y1="555.2" x2="1347.2" y2="668.8" stroke="url(#a3)" marker-start="url(#m-cy)" marker-end="url(#m-lav)"/>
<line x1="1266" y1="559" x2="1266" y2="667" stroke="url(#a4)" marker-start="url(#m-lg)" marker-end="url(#m-lav)"/>
<line x1="1252.7" y1="555.5" x2="1233.3" y2="589.5" stroke="url(#a5)" marker-start="url(#m-sa)" marker-end="url(#m-lav)"/>
<line x1="1372.8" y1="554.2" x2="1393.2" y2="588.8" stroke="url(#a6)" marker-start="url(#m-sa)" marker-end="url(#m-or)"/>
<line x1="1359.3" y1="558" x2="1360.7" y2="665" stroke="url(#a7)" marker-start="url(#m-lg)" marker-end="url(#m-ye)"/>
<line x1="1345.6" y1="554.4" x2="1279.4" y2="670.6" stroke="url(#a8)" marker-start="url(#m-lg)" marker-end="url(#m-ye)"/>
<line x1="1335.7" y1="544.7" x2="1243.3" y2="599.3" stroke="#ffbb22" marker-start="url(#m-or)" marker-end="url(#m-ye)"/>
<line x1="1393.5" y1="635.4" x2="1374.5" y2="668.6" stroke="url(#a10)" marker-start="url(#m-lb)" marker-end="url(#m-pk)"/>
<line x1="1383.7" y1="625.6" x2="1289.3" y2="680.4" stroke="url(#a11)" marker-start="url(#m-lg)" marker-end="url(#m-sa)"/>
<line x1="1380" y1="612.1" x2="1247" y2="612.9" stroke="url(#a12)" marker-start="url(#m-sa)" marker-end="url(#m-pk)"/>
<line x1="1334" y1="692.6" x2="1293" y2="693.4" stroke="#99ffdd" marker-start="url(#m-aq)" marker-end="url(#m-aq)"/>
<line x1="1337.4" y1="678.8" x2="1243.6" y2="626.2" stroke="url(#a14)" marker-start="url(#m-sa)" marker-end="url(#m-cy)"/>
<line x1="1252.7" y1="670.5" x2="1233.3" y2="636.5" stroke="url(#a15)" marker-start="url(#m-sa)" marker-end="url(#m-lg)"/>
</g>
<g id="mutual-nodes" class="r" font-size="15" text-anchor="middle">
<circle cx="1266" cy="532" r="15" fill="#ccccff"/><text x="1266" y="537.5">A</text>
<circle cx="1359" cy="531" r="15" fill="#ffcc00"/><text x="1359" y="536.5">B</text>
<circle cx="1407" cy="612" r="15" fill="#ff99cc"/><text x="1407" y="617.5">C</text>
<circle cx="1361" cy="692" r="15" fill="#99ffff"/><text x="1361" y="697.5">D</text>
<circle cx="1266" cy="694" r="15" fill="#99ff99"/><text x="1266" y="699.5">E</text>
<circle cx="1220" cy="613" r="15" fill="#ff8888"/><text x="1220" y="618.5">F</text>
</g>
<g id="taldea-funtzionala">
<text x="1312" y="608" text-anchor="middle" class="r" font-size="14" textLength="85.5" lengthAdjust="spacingAndGlyphs">Historia duen</text>
<text x="1312" y="625.6" text-anchor="middle" class="r" font-size="14" textLength="41.2" lengthAdjust="spacingAndGlyphs">Taldea</text>
<text x="1312" y="641.6" text-anchor="middle" class="b" font-size="14" textLength="79.4" lengthAdjust="spacingAndGlyphs">Funtzionala</text>
<text x="1311.5" y="669.5" text-anchor="middle" class="b" font-size="21" fill="#ccee00" stroke="#113333" stroke-width="1" textLength="67" lengthAdjust="spacingAndGlyphs">BIZIA</text>
</g>
<g id="antsietate-erreparatorioa">
<ellipse cx="1487" cy="710" rx="77" ry="26" fill="url(#gAnts)" stroke="#000" stroke-width="2"/>
<text x="1487" y="704" text-anchor="middle" class="b" font-size="13" textLength="99.3" lengthAdjust="spacingAndGlyphs">ANTSIETATE</text>
<text x="1487" y="720" text-anchor="middle" class="b" font-size="13" textLength="135.2" lengthAdjust="spacingAndGlyphs">ERREPARATORIOA</text>
</g>
<g id="neoparadigma">
<text x="1335.6" y="750.5" text-anchor="middle" class="im" font-size="20" fill="#33ee11" stroke="#113311" stroke-width="0.8" textLength="175" lengthAdjust="spacingAndGlyphs">NEOPARADIGMA</text>
<polygon points="1218,761 1448,761 1448,777 1492,777 1492,795 1471,795 1471,807 1438,807 1438,820 1231,820 1231,807 1208,807 1208,795 1183,795 1183,777 1218,777" fill="#fff" stroke="#55ee22" stroke-width="4"/>
<text x="1329.3" y="775.4" text-anchor="middle" class="b" font-size="14" textLength="191.9" lengthAdjust="spacingAndGlyphs">IKASBIDE ESANGURATSUA</text>
<text x="1335.6" y="788.5" text-anchor="middle" class="r" font-size="12.5" textLength="287.6" lengthAdjust="spacingAndGlyphs">Norberak eta egunero garatu behar duen prozesua</text>
<line x1="1192" y1="790.6" x2="1246.4" y2="790.6" stroke="#000" stroke-width="1"/>
<text x="1335.6" y="802.3" text-anchor="middle" class="r" font-size="12.5" textLength="179" lengthAdjust="spacingAndGlyphs">(inork ezin du bere ordez egin)</text>
<text x="1335.6" y="815.4" text-anchor="middle" class="r" font-size="12.5" textLength="182.7" lengthAdjust="spacingAndGlyphs">Norbera bere buruaz arduratzea</text>
</g>

<!-- BOTTOM -->
<g id="teknikoa">
<ellipse cx="114" cy="1019" rx="83.5" ry="78" fill="#ccffcc" stroke="#000" stroke-width="4"/>
<text transform="translate(107,1013) rotate(-33)" x="0" y="11" text-anchor="middle" class="sb" font-size="30" font-style="italic" fill="#22ee00" stroke="#000" stroke-width="1" textLength="145" lengthAdjust="spacingAndGlyphs">TEKNIKOA</text>
</g>
<text id="enkoadrea" x="233.3" y="997" class="b" font-size="15" textLength="366" lengthAdjust="spacingAndGlyphs">Enkoadrea eta Jolasaren legeak argi eta zuzen zehaztu</text>
<g id="barnebiltzea">
<rect x="474" y="1034.4" width="166" height="43" rx="21.5" fill="#ccffcc" stroke="#66ee22" stroke-width="5"/>
<text x="557" y="1062.3" text-anchor="middle" class="b" font-size="17.5" textLength="143" lengthAdjust="spacingAndGlyphs">BARNEBILTZEA</text>
</g>
<text id="zutabetxo" x="689.5" y="1084.4" class="b" font-size="13" textLength="340" lengthAdjust="spacingAndGlyphs">Gorabeheren aurrean: “Zutabetxo xarmangarria”</text>
<g id="aurrikusi">
<line x1="1035.8" y1="1050.7" x2="1035.8" y2="1104.2" stroke="#000" stroke-width="1.6"/>
<text x="1042.2" y="1058.8" class="b" font-size="13" textLength="65.5" lengthAdjust="spacingAndGlyphs">Aurrikusi</text>
<text x="1042.2" y="1072.8" class="b" font-size="13" textLength="83" lengthAdjust="spacingAndGlyphs">Tinkotasuna</text>
<text x="1042.2" y="1087.2" class="b" font-size="13" textLength="80" lengthAdjust="spacingAndGlyphs">Argitasuna</text>
<text x="1042.2" y="1101.9" class="b" font-size="13" textLength="161" lengthAdjust="spacingAndGlyphs">Probokazioetan ez sartu</text>
</g>
<g id="bitartekaria">
<ellipse cx="716" cy="1002.3" rx="64" ry="16" fill="#fff" stroke="#118833" stroke-width="2"/>
<ellipse cx="716" cy="986.5" rx="49" ry="10.5" fill="#fff" stroke="#118833" stroke-width="2"/>
<text x="717" y="992.5" text-anchor="middle" class="b" font-size="13" textLength="82.6" lengthAdjust="spacingAndGlyphs">Bitartekaria</text>
<text x="717" y="1006.5" text-anchor="middle" class="b" font-size="13" textLength="114" lengthAdjust="spacingAndGlyphs">Metakonszientea</text>
</g>
<g id="aukerak-eskaini">
<rect x="855" y="982" width="124.5" height="26" fill="#fff" stroke="#33cc33" stroke-width="4"/>
<text x="861.3" y="1000.2" class="b" font-size="14" textLength="113.3" lengthAdjust="spacingAndGlyphs">Aukerak Eskaini</text>
</g>
<g id="ez">
<ellipse cx="1019.8" cy="977.9" rx="17.5" ry="13" fill="#fff" stroke="#44ee22" stroke-width="4"/>
<text x="1019.8" y="983" text-anchor="middle" class="b" font-size="14" textLength="17.8" lengthAdjust="spacingAndGlyphs">Ez</text>
</g>
<g id="bai">
<ellipse cx="1020.5" cy="1011.1" rx="17.5" ry="13" fill="#fff" stroke="#44ee22" stroke-width="4"/>
<text x="1020.5" y="1016.2" text-anchor="middle" class="b" font-size="14" textLength="22.4" lengthAdjust="spacingAndGlyphs">Bai</text>
</g>
<g id="erreparatu">
<rect x="1063" y="982" width="187.8" height="26" fill="#fff" stroke="#33cc33" stroke-width="4"/>
<text x="1066.3" y="1000.2" class="b" font-size="14" textLength="165" lengthAdjust="spacingAndGlyphs">ERREPARATU / IREKI</text>
</g>
<text id="paradigma" x="691" y="1039" class="b" font-size="13.5" textLength="580" lengthAdjust="spacingAndGlyphs">PARADIGMA DESBERDINAK DAUDELA ERAKUTSI: “ Nik honetar jolastEn dut”</text>
<g id="joko-batura">
<rect x="1276.7" y="1019" width="169.7" height="30" rx="15" fill="#fff" stroke="#000" stroke-width="2.2"/>
<text x="1286.7" y="1039.7" class="b" font-size="14.5" textLength="150" lengthAdjust="spacingAndGlyphs">JOKO  BATURA ≠ 0</text>
</g>
<g id="egileak">
<rect x="1459.5" y="966.5" width="104.5" height="134.5" fill="#fff" stroke="#000" stroke-width="3.5"/>
<line x1="1459.5" y1="1022.8" x2="1564" y2="1022.8" stroke="#000" stroke-width="3.5"/>
<text x="1472.3" y="986" class="b" font-size="16" textLength="37.4" lengthAdjust="spacingAndGlyphs">T. Gil</text>
<text x="1472.3" y="1003.1" class="b" font-size="16" textLength="61.8" lengthAdjust="spacingAndGlyphs">J.M. Ona</text>
<text x="1470.3" y="1038.4" class="r" font-size="14" textLength="86.9" lengthAdjust="spacingAndGlyphs">Gear / Liendo</text>
<text x="1470.3" y="1052.8" class="r" font-size="14" textLength="45.2" lengthAdjust="spacingAndGlyphs">Anzieu</text>
<text x="1470.3" y="1067.2" class="r" font-size="14" textLength="61" lengthAdjust="spacingAndGlyphs">Prigogine</text>
<text x="1470.3" y="1081.6" class="r" font-size="14" textLength="43.7" lengthAdjust="spacingAndGlyphs">Selvini</text>
<text x="1470.3" y="1096" class="r" font-size="14" textLength="73.9" lengthAdjust="spacingAndGlyphs">Watzlawick</text>
</g>
<text id="figueiredo" x="1317" y="1099" class="r" font-size="14.5" font-style="italic" textLength="131.5" lengthAdjust="spacingAndGlyphs">L. Figueiredo, 1996</text>

<!-- CONNECTORS -->
<g id="connectors" fill="none" stroke="#000" stroke-width="1.5">
<line x1="167" y1="194" x2="109" y2="228" marker-end="url(#ah)"/>
<line x1="358" y1="182" x2="493" y2="74" marker-end="url(#ah)"/>
<line x1="86" y1="252" x2="75" y2="305" marker-end="url(#ah)"/>
<line x1="68" y1="332" x2="64" y2="362" marker-end="url(#ah)"/>
<line x1="60" y1="388" x2="60" y2="411" marker-end="url(#ah)"/>
<path d="M349,440 C349,410 380,400 430,400 C470,400 495,404 513,408" marker-end="url(#ah)"/>
<line x1="514" y1="623" x2="514" y2="796" marker-end="url(#ah)"/>
<line x1="946.6" y1="774.4" x2="1001.7" y2="678" marker-end="url(#ah)"/>
<line x1="509.4" y1="1033.2" x2="474" y2="1005" marker-end="url(#ah)"/>
<path d="M620.8,1075 C640,1081 660,1081 689,1080.5" marker-end="url(#ah)"/>
<polyline points="1000,978.5 981.6,994.8 1002,1008.8"/>
<path d="M1044.7,1014.2 C1062,1008 1062,985 1041,976.2" marker-end="url(#ah)"/>
<polyline points="306.4,50.7 286.8,57.9 306.4,64.3"/>
<path d="M615,44 C640,85 760,84 860,82 C950,80 1000,74 1082,67 L1374,39" stroke="#66ff22" stroke-width="6"/>
<path d="M616,46 C641,87 760,86 860,84 C950,82 1000,76 1082,69 L1374,41" stroke="#000" stroke-width="1.8"/>
<polygon points="1391,36.5 1368,28.5 1372,48" fill="#000" stroke="#66ff22" stroke-width="2"/>
</g>

</g>
<rect x="1.5" y="1.5" width="2243" height="1585" fill="none" stroke="#000" stroke-width="3.5"/>
</svg>
